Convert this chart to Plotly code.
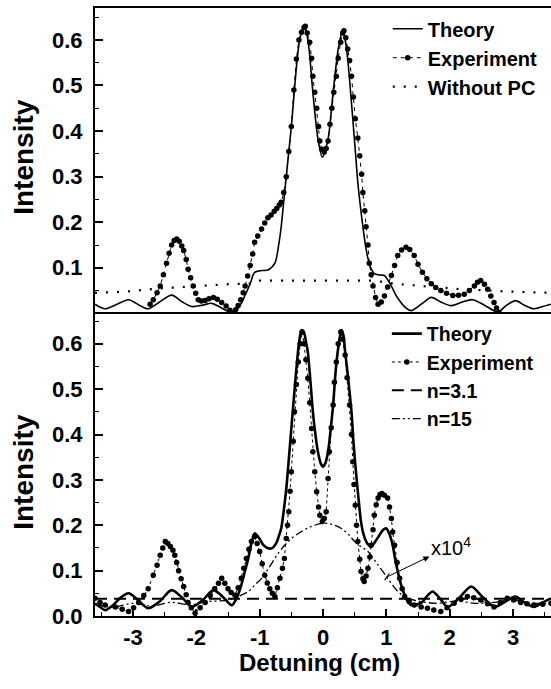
import plotly.graph_objects as go

# ---------------- data: top panel ----------------
top_theory_x = [-3.60,-3.44,-3.25,-3.07,-2.90,-2.76,-2.58,-2.39,-2.22,-2.07,-1.90,-1.76,-1.60,-1.42,-1.30,-1.23,-1.15,-1.08,-0.97,-0.87,-0.76,-0.70,-0.66,-0.62,-0.58,-0.54,-0.50,-0.46,-0.42,-0.38,-0.34,-0.30,-0.26,-0.22,-0.16,-0.08,-0.01,0.08,0.16,0.24,0.31,0.35,0.39,0.43,0.47,0.51,0.55,0.59,0.63,0.67,0.71,0.76,0.81,0.90,0.97,1.03,1.08,1.15,1.23,1.31,1.39,1.55,1.71,1.86,2.02,2.20,2.36,2.55,2.76,2.90,3.04,3.18,3.33,3.47,3.60]
top_theory_y = [0.020,0.010,0.020,0.030,0.018,0.010,0.025,0.040,0.025,0.015,0.018,0.022,0.012,0.001,0.020,0.040,0.065,0.090,0.094,0.095,0.110,0.150,0.190,0.245,0.300,0.355,0.410,0.475,0.540,0.590,0.617,0.628,0.615,0.580,0.485,0.383,0.343,0.383,0.485,0.580,0.620,0.600,0.558,0.495,0.427,0.357,0.287,0.235,0.190,0.150,0.120,0.098,0.087,0.084,0.083,0.072,0.060,0.040,0.024,0.012,0.006,0.020,0.035,0.025,0.017,0.025,0.030,0.018,0.003,0.018,0.028,0.018,0.010,0.015,0.020]

top_exp_x = [-2.73,-2.68,-2.62,-2.57,-2.52,-2.47,-2.43,-2.39,-2.35,-2.31,-2.27,-2.23,-2.20,-2.16,-2.13,-2.09,-2.05,-2.01,-1.97,-1.92,-1.86,-1.80,-1.73,-1.67,-1.60,-1.53,-1.47,-1.42,-1.38,-1.34,-1.30,-1.26,-1.23,-1.19,-1.15,-1.11,-1.08,-1.03,-0.97,-0.92,-0.87,-0.82,-0.77,-0.73,-0.69,-0.66,-0.62,-0.58,-0.54,-0.50,-0.46,-0.42,-0.38,-0.34,-0.30,-0.28,-0.25,-0.21,-0.18,-0.16,-0.13,-0.10,-0.07,-0.05,-0.02,0.02,0.05,0.08,0.11,0.14,0.17,0.21,0.24,0.28,0.31,0.33,0.36,0.39,0.42,0.45,0.48,0.51,0.55,0.58,0.61,0.63,0.66,0.68,0.71,0.73,0.76,0.79,0.83,0.87,0.92,0.97,1.02,1.08,1.13,1.18,1.24,1.31,1.37,1.44,1.50,1.57,1.64,1.71,1.78,1.86,1.95,2.05,2.14,2.23,2.31,2.39,2.44,2.49,2.55,2.60,2.65,2.70,2.74,2.78]
top_exp_y = [0.020,0.030,0.045,0.060,0.085,0.110,0.132,0.150,0.160,0.163,0.158,0.148,0.138,0.118,0.097,0.078,0.060,0.044,0.030,0.027,0.028,0.032,0.035,0.031,0.024,0.016,0.007,0.001,0.008,0.017,0.030,0.045,0.060,0.082,0.105,0.130,0.156,0.170,0.185,0.198,0.210,0.216,0.224,0.230,0.238,0.244,0.265,0.300,0.355,0.410,0.490,0.558,0.600,0.617,0.627,0.630,0.615,0.595,0.560,0.520,0.485,0.450,0.410,0.378,0.360,0.354,0.362,0.378,0.415,0.450,0.485,0.520,0.560,0.595,0.615,0.620,0.605,0.580,0.555,0.520,0.475,0.427,0.385,0.346,0.305,0.265,0.225,0.190,0.150,0.110,0.085,0.060,0.035,0.020,0.025,0.038,0.058,0.083,0.105,0.127,0.139,0.145,0.140,0.127,0.108,0.090,0.076,0.065,0.057,0.050,0.044,0.039,0.040,0.042,0.050,0.060,0.068,0.072,0.064,0.053,0.038,0.024,0.012,0.002]

top_nopc_x = [-3.60,-3.10,-2.55,-2.00,-1.50,-1.08,-1.00,0.00,0.80,1.13,1.60,2.18,2.90,3.60]
top_nopc_y = [0.045,0.048,0.055,0.060,0.064,0.066,0.072,0.072,0.072,0.065,0.060,0.053,0.048,0.045]

# ---------------- data: bottom panel ----------------
bot_theory_x = [-3.60,-3.52,-3.44,-3.33,-3.20,-3.07,-2.92,-2.76,-2.58,-2.39,-2.22,-2.07,-1.90,-1.73,-1.58,-1.44,-1.36,-1.29,-1.23,-1.18,-1.13,-1.08,-1.01,-0.94,-0.88,-0.81,-0.74,-0.70,-0.66,-0.62,-0.58,-0.54,-0.50,-0.46,-0.42,-0.38,-0.34,-0.30,-0.27,-0.24,-0.20,-0.16,-0.12,-0.08,-0.04,0.00,0.04,0.08,0.12,0.16,0.20,0.24,0.29,0.32,0.35,0.40,0.45,0.48,0.52,0.56,0.60,0.64,0.70,0.76,0.82,0.89,0.95,1.00,1.05,1.10,1.14,1.18,1.23,1.29,1.34,1.39,1.47,1.56,1.65,1.73,1.85,1.97,2.15,2.34,2.52,2.71,2.88,3.04,3.18,3.33,3.47,3.60]
bot_theory_y = [0.028,0.020,0.013,0.022,0.040,0.050,0.035,0.017,0.032,0.057,0.040,0.020,0.035,0.057,0.042,0.024,0.040,0.068,0.100,0.127,0.160,0.182,0.172,0.156,0.150,0.149,0.160,0.175,0.193,0.232,0.280,0.345,0.413,0.480,0.545,0.600,0.630,0.625,0.605,0.582,0.520,0.450,0.400,0.362,0.338,0.329,0.338,0.362,0.410,0.465,0.540,0.590,0.630,0.620,0.582,0.520,0.450,0.385,0.318,0.260,0.208,0.180,0.160,0.153,0.163,0.178,0.190,0.193,0.180,0.156,0.125,0.098,0.070,0.046,0.032,0.024,0.025,0.030,0.045,0.054,0.038,0.020,0.040,0.065,0.042,0.020,0.032,0.043,0.030,0.020,0.030,0.039]

bot_exp_x = [-3.60,-3.52,-3.44,-3.28,-3.17,-3.07,-2.99,-2.91,-2.83,-2.76,-2.68,-2.62,-2.57,-2.53,-2.49,-2.45,-2.41,-2.37,-2.34,-2.31,-2.28,-2.24,-2.20,-2.16,-2.13,-2.08,-2.02,-1.94,-1.86,-1.78,-1.71,-1.65,-1.60,-1.55,-1.50,-1.45,-1.39,-1.34,-1.29,-1.25,-1.21,-1.17,-1.13,-1.08,-1.04,-1.00,-0.96,-0.92,-0.88,-0.84,-0.80,-0.76,-0.72,-0.68,-0.64,-0.61,-0.58,-0.56,-0.54,-0.52,-0.50,-0.47,-0.45,-0.42,-0.39,-0.36,-0.33,-0.30,-0.27,-0.24,-0.21,-0.18,-0.16,-0.13,-0.10,-0.07,-0.05,-0.01,0.02,0.05,0.08,0.10,0.13,0.16,0.18,0.21,0.24,0.28,0.31,0.35,0.38,0.42,0.45,0.47,0.49,0.51,0.53,0.55,0.58,0.60,0.63,0.65,0.68,0.71,0.74,0.76,0.79,0.81,0.84,0.87,0.90,0.93,0.97,1.02,1.05,1.08,1.10,1.13,1.17,1.21,1.25,1.29,1.36,1.44,1.55,1.65,1.75,1.86,1.96,2.07,2.18,2.28,2.38,2.49,2.60,2.70,2.80,2.91,3.01,3.12,3.22,3.33,3.47,3.60]
bot_exp_y = [0.039,0.030,0.024,0.020,0.015,0.010,0.018,0.030,0.045,0.060,0.090,0.112,0.134,0.150,0.164,0.160,0.153,0.145,0.134,0.118,0.100,0.082,0.065,0.047,0.030,0.018,0.006,0.018,0.030,0.045,0.060,0.072,0.083,0.072,0.060,0.052,0.046,0.062,0.083,0.105,0.127,0.147,0.164,0.175,0.160,0.142,0.115,0.090,0.073,0.060,0.050,0.043,0.062,0.083,0.105,0.127,0.171,0.200,0.230,0.275,0.318,0.385,0.450,0.510,0.560,0.600,0.626,0.600,0.565,0.524,0.470,0.413,0.362,0.318,0.274,0.240,0.222,0.208,0.215,0.230,0.303,0.362,0.415,0.465,0.515,0.560,0.600,0.626,0.610,0.575,0.525,0.465,0.400,0.340,0.290,0.244,0.200,0.164,0.125,0.098,0.082,0.076,0.088,0.105,0.130,0.156,0.190,0.222,0.245,0.260,0.268,0.270,0.266,0.260,0.240,0.215,0.185,0.156,0.118,0.083,0.060,0.043,0.032,0.024,0.020,0.017,0.013,0.010,0.018,0.028,0.037,0.043,0.040,0.035,0.027,0.020,0.030,0.039,0.035,0.030,0.027,0.024,0.026,0.028]

bot_n31_x = [-3.60, 3.60]
bot_n31_y = [0.038, 0.038]

bot_n15_x = [-3.6,-3.3,-3.0,-2.7,-2.4,-2.1,-1.8,-1.5,-1.29,-1.18,-1.08,-0.97,-0.86,-0.76,-0.66,-0.55,-0.45,-0.34,-0.24,-0.13,-0.02,0.08,0.18,0.29,0.40,0.50,0.60,0.71,0.79,0.87,0.95,1.02,1.10,1.18,1.26,1.34,1.5,1.8,2.1,2.4,2.7,3.0,3.3,3.6]
bot_n15_y = [0.025,0.020,0.028,0.022,0.030,0.025,0.032,0.035,0.046,0.054,0.068,0.083,0.105,0.127,0.147,0.164,0.176,0.186,0.194,0.200,0.204,0.204,0.200,0.193,0.180,0.164,0.153,0.142,0.128,0.112,0.097,0.083,0.068,0.054,0.045,0.039,0.033,0.028,0.033,0.028,0.030,0.035,0.028,0.030]

x_ticks = [-3, -2, -1, 0, 1, 2, 3]
x_tick_text = ["-3", "-2", "-1", "0", "1", "2", "3"]
y_ticks_top = [0.1, 0.2, 0.3, 0.4, 0.5, 0.6]
y_ticks_bot = [0.0, 0.1, 0.2, 0.3, 0.4, 0.5, 0.6]

FONT = "Liberation Sans, Arial, sans-serif"
BLK = "black"

fig = go.Figure()

# top panel traces
fig.add_trace(go.Scatter(x=top_theory_x, y=top_theory_y, xaxis="x2", yaxis="y2", mode="lines",
                         line=dict(color=BLK, width=1.6, shape="spline", smoothing=0.8),
                         name="Theory", legend="legend"))
fig.add_trace(go.Scatter(x=top_exp_x, y=top_exp_y, xaxis="x2", yaxis="y2", mode="lines+markers",
                         line=dict(color=BLK, width=1, dash="4px,4px"),
                         marker=dict(color=BLK, size=5.5, symbol="circle"),
                         name="Experiment", legend="legend"))
fig.add_trace(go.Scatter(x=top_nopc_x, y=top_nopc_y, xaxis="x2", yaxis="y2", mode="lines",
                         line=dict(color=BLK, width=2.2, dash="2px,9px"),
                         name="Without PC", legend="legend"))

# bottom panel traces
fig.add_trace(go.Scatter(x=bot_theory_x, y=bot_theory_y, mode="lines",
                         line=dict(color=BLK, width=2.6, shape="spline", smoothing=0.8),
                         name="Theory", legend="legend2"))
fig.add_trace(go.Scatter(x=bot_exp_x, y=bot_exp_y, mode="lines+markers",
                         line=dict(color=BLK, width=1, dash="3px,3px"),
                         marker=dict(color=BLK, size=5.5, symbol="circle"),
                         name="Experiment", legend="legend2"))
fig.add_trace(go.Scatter(x=bot_n31_x, y=bot_n31_y, mode="lines",
                         line=dict(color=BLK, width=2, dash="12px,7px"),
                         name="n=3.1", legend="legend2"))
fig.add_trace(go.Scatter(x=bot_n15_x, y=bot_n15_y, mode="lines",
                         line=dict(color=BLK, width=1.3, dash="8px,3px,2px,3px,2px,3px", shape="spline"),
                         name="n=15", legend="legend2"))

tickfont = dict(family=FONT, size=22, color=BLK, weight="bold")
common_x = dict(range=[-3.6, 3.6], showline=True, linewidth=2, linecolor=BLK,
                showgrid=False, zeroline=False, tickvals=x_ticks, ticktext=x_tick_text)
fig.update_layout(
    width=551, height=689,
    margin=dict(l=95, r=0, t=8, b=73),
    paper_bgcolor="white", plot_bgcolor="white",
    showlegend=True,
    xaxis=dict(**common_x, anchor="y", mirror=False, ticks="inside", ticklen=7, tickwidth=1.5,
               tickcolor=BLK, tickfont=tickfont, ticklabelstandoff=1,
               minor=dict(dtick=0.5, ticks="inside", ticklen=4, tickwidth=1.2, tickcolor=BLK)),
    xaxis2=dict(**common_x, anchor="y2", mirror=True, matches="x", showticklabels=False, ticks=""),
    yaxis=dict(domain=[0, 0.5], range=[0, 0.67], showline=True, linewidth=2, linecolor=BLK,
               showgrid=False, zeroline=False, tickvals=y_ticks_bot,
               ticktext=[f"{v:.1f}" for v in y_ticks_bot],
               ticks="inside", ticklen=8, tickwidth=1.5, tickcolor=BLK, tickfont=tickfont,
               ticklabelstandoff=6,
               minor=dict(dtick=0.05, ticks="inside", ticklen=4, tickwidth=1.2, tickcolor=BLK)),
    yaxis2=dict(domain=[0.5, 1], range=[0.003, 0.67], showline=True, linewidth=2, linecolor=BLK,
                showgrid=False, zeroline=False, tickvals=y_ticks_top,
                ticktext=[f"{v:.1f}" for v in y_ticks_top],
                ticks="inside", ticklen=8, tickwidth=1.5, tickcolor=BLK, tickfont=tickfont,
                ticklabelstandoff=6,
                minor=dict(dtick=0.05, ticks="inside", ticklen=4, tickwidth=1.2, tickcolor=BLK)),
    legend=dict(x=0.642, y=0.998, xanchor="left", yanchor="top", bgcolor="rgba(0,0,0,0)",
                font=dict(family=FONT, size=20, color=BLK, weight="bold"), tracegroupgap=0,
                itemwidth=30),
    legend2=dict(x=0.64, y=0.496, xanchor="left", yanchor="top", bgcolor="rgba(0,0,0,0)",
                 font=dict(family=FONT, size=19.5, color=BLK, weight="bold"), tracegroupgap=0,
                 itemwidth=30),
)

# axis titles
fig.add_annotation(text="Intensity", xref="paper", yref="paper", x=-0.156, y=0.755,
                   textangle=-90, showarrow=False, xanchor="center", yanchor="middle",
                   font=dict(family=FONT, size=28, color=BLK, weight="bold"))
fig.add_annotation(text="Intensity", xref="paper", yref="paper", x=-0.156, y=0.237,
                   textangle=-90, showarrow=False, xanchor="center", yanchor="middle",
                   font=dict(family=FONT, size=28, color=BLK, weight="bold"))
fig.add_annotation(text="Detuning (cm)", xref="paper", yref="paper", x=0.493, y=-0.076,
                   showarrow=False, xanchor="center", yanchor="middle",
                   font=dict(family=FONT, size=24, color=BLK, weight="bold"))

# x10^4 label with arrow (head at the label end)
fig.add_annotation(text="x10<sup>4</sup>", xref="x", yref="y", x=1.01, y=0.086,
                   axref="x", ayref="y", ax=2.02, ay=0.154,
                   showarrow=True, arrowside="start", startarrowhead=2, startarrowsize=1.2,
                   arrowwidth=1, arrowcolor=BLK, standoff=0, startstandoff=0,
                   font=dict(family=FONT, size=20, color=BLK))
fig.add_shape(type="line", xref="x", yref="y", x0=0.974, y0=0.079, x1=1.047, y1=0.0937,
              line=dict(color=BLK, width=1.2))

fig.write_html("out.html")
